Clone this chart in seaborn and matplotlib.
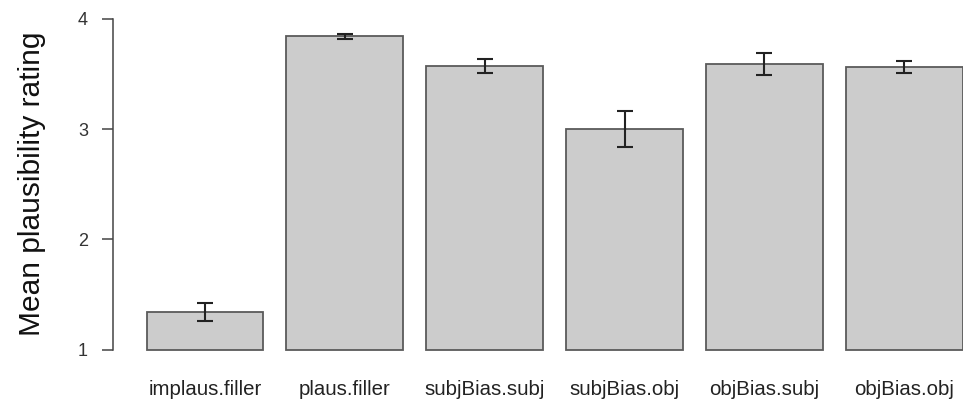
import numpy as np
import pandas as pd
import matplotlib
matplotlib.use("Agg")
import matplotlib.pyplot as plt
import seaborn as sns

# values
conditions = ["implaus.filler", "plaus.filler", "subjBias.subj",
              "subjBias.obj", "objBias.subj", "objBias.obj"]
mean_rating = [1.34, 3.84, 3.57, 3.00, 3.59, 3.565]
se_rating = [0.08, 0.025, 0.066, 0.16, 0.098, 0.055]

BASE = 1.0


def main():
    sns.set_style("white")
    plt.rcParams["font.family"] = ["Liberation Sans", "DejaVu Sans"]

    df = pd.DataFrame({"condition": conditions, "rating": mean_rating})

    fig = plt.figure(figsize=(9.63, 4.05), dpi=100)
    ax = fig.add_axes([113 / 963, 1 - 363 / 405, 1 - 113 / 963, (363 - 5.4) / 405])

    sns.barplot(data=df, x="condition", y="rating", color="#cccccc",
                edgecolor="#5a5a5a", linewidth=1.3, width=1 / 1.2,
                errorbar=None, saturation=1, ax=ax)

    # bars in the original start at the axis minimum (1), not at 0
    for p in ax.patches:
        top = p.get_y() + p.get_height()
        p.set_y(BASE)
        p.set_height(top - BASE)

    ax.errorbar(np.arange(len(conditions)), mean_rating, yerr=se_rating,
                fmt="none", ecolor="#222222", elinewidth=1.5, capsize=5.5,
                capthick=1.5)

    ax.set_ylim(0.88, 4.12)
    ax.set_xlim(-0.657, 5.42)
    ax.set_yticks([1, 2, 3, 4])
    ax.set_xlabel("")
    ax.set_ylabel("Mean plausibility rating", fontsize=21.5, labelpad=23,
                  color="#111111")

    sns.despine(ax=ax, top=True, right=True, bottom=True)
    ax.spines["left"].set_bounds(1, 4)
    ax.spines["left"].set_color("#444444")
    ax.spines["left"].set_linewidth(1.1)
    ax.tick_params(axis="y", length=8, width=1.1, color="#444444",
                   labelsize=13, pad=10, labelcolor="#333333", left=True)
    ax.tick_params(axis="x", length=0, labelsize=14.7, pad=12, labelcolor="#222222")

    fig.savefig("out.png", dpi=100)


if __name__ == "__main__":
    main()
